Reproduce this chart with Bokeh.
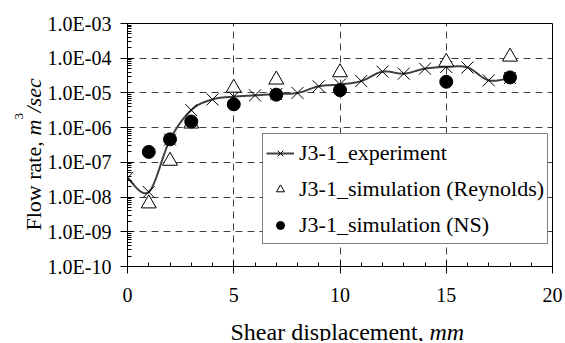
import math
import numpy as np
from bokeh.plotting import figure
from bokeh.layouts import row, column
from bokeh.models import (Label, Legend, LegendItem, FixedTicker,
                          CustomJSTickFormatter, Range1d)
from bokeh.embed import file_html
from bokeh.resources import INLINE

# ---------------- data ----------------
exp_x = [0, 1, 2, 3, 4, 5, 6, 7, 8, 9, 10, 11, 12, 13, 14, 15, 16, 17, 18]
exp_y = [3.6e-8, 1.4e-8, 4.5e-7, 3.2e-6, 6.5e-6, 7.8e-6, 8.5e-6, 9.3e-6,
         1.0e-5, 1.55e-5, 1.75e-5, 2.2e-5, 4.1e-5, 3.6e-5, 5.0e-5, 5.6e-5,
         5.4e-5, 2.3e-5, 2.7e-5]

rey_x = [1, 2, 3, 5, 7, 10, 15, 18]
rey_y = [6.5e-9, 1.1e-7, 1.3e-6, 1.4e-5, 2.4e-5, 3.9e-5, 7.8e-5, 1.1e-4]

ns_x = [1, 2, 3, 5, 7, 10, 15, 18]
ns_y = [2.0e-7, 4.6e-7, 1.5e-6, 4.7e-6, 8.9e-6, 1.2e-5, 2.1e-5, 2.8e-5]

x_ticks = [0, 5, 10, 15, 20]
y_decades = [-10, -9, -8, -7, -6, -5, -4, -3]

FONT = "'Liberation Serif', 'Times New Roman', serif"

# ------------- smoothed line (Excel-like Catmull-Rom in log space) -------------
def smooth(xs, ys, n=30):
    px = np.array(xs, dtype=float)
    py = np.log10(np.array(ys, dtype=float))
    m = len(px)
    outx, outy = [], []
    for i in range(m - 1):
        i0 = max(i - 1, 0)
        i3 = min(i + 2, m - 1)
        p0 = np.array([px[i0], py[i0]])
        p1 = np.array([px[i], py[i]])
        p2 = np.array([px[i + 1], py[i + 1]])
        p3 = np.array([px[i3], py[i3]])
        c1 = p1 + (p2 - p0) / 6.0
        c2 = p2 - (p3 - p1) / 6.0
        t = np.linspace(0, 1, n, endpoint=(i == m - 2))
        b = ((1 - t) ** 3)[:, None] * p1 + (3 * (1 - t) ** 2 * t)[:, None] * c1 \
            + (3 * (1 - t) * t ** 2)[:, None] * c2 + (t ** 3)[:, None] * p2
        outx.extend(b[:, 0].tolist())
        outy.extend(b[:, 1].tolist())
    return outx, [10 ** v for v in outy]

sx, sy = smooth(exp_x, exp_y)

def no_align(f):
    try:
        f.frame_align = False
    except Exception:
        pass

# ---------------- layout geometry (page pixels) ----------------
TOTAL_W, TOTAL_H = 563, 341
FR_L, FR_R, FR_T, FR_B = 125, 552, 23, 266
YT_W = 44
MAIN_W = TOTAL_W - YT_W
MAIN_H = 312
XT_H = TOTAL_H - MAIN_H

# ---------------- main figure ----------------
p = figure(width=MAIN_W, height=MAIN_H, output_backend="svg",
           toolbar_location=None, y_axis_type="log",
           x_range=Range1d(0, 20), y_range=Range1d(1e-10, 1e-3),
           min_border_left=FR_L - YT_W, min_border_right=TOTAL_W - FR_R,
           min_border_top=FR_T, min_border_bottom=MAIN_H - FR_B)
no_align(p)
p.background_fill_color = "white"
p.border_fill_color = "white"
p.outline_line_color = "black"
p.outline_line_width = 1

p.xaxis.ticker = FixedTicker(ticks=x_ticks, minor_ticks=list(range(0, 21)))
major_y = [10.0 ** d for d in y_decades]
minor_y = [k * 10.0 ** d for d in y_decades[:-1] for k in range(2, 10)]
p.yaxis.ticker = FixedTicker(ticks=major_y, minor_ticks=minor_y)
p.yaxis.formatter = CustomJSTickFormatter(code="""
const s = tick.toExponential(1);
const parts = s.split('e');
let e = parseInt(parts[1]);
const sign = e < 0 ? '-' : '+';
e = Math.abs(e);
return parts[0] + 'E' + sign + (e < 10 ? '0' + e : '' + e);
""")

for ax in (p.xaxis, p.yaxis):
    ax.axis_line_color = "black"
    ax.axis_line_width = 1
    ax.major_tick_line_color = "black"
    ax.minor_tick_line_color = "black"
    ax.major_tick_out = 7
    ax.major_tick_in = 6
    ax.minor_tick_out = 0
    ax.minor_tick_in = 4
    ax.major_label_text_font = FONT
    ax.major_label_text_font_size = "20px"
    ax.major_label_text_color = "black"
p.xaxis.major_label_standoff = 14
p.yaxis.major_label_standoff = 9

p.xgrid.grid_line_color = "#404040"
p.ygrid.grid_line_color = "#404040"
p.xgrid.grid_line_dash = "7 5"
p.ygrid.grid_line_dash = "7 5"

r_line = p.line(sx, sy, line_color="#404040", line_width=2)
r_exp = p.scatter(exp_x, exp_y, marker="x", size=17, line_color="black",
                  line_width=1)
r_rey = p.scatter(rey_x, rey_y, marker="triangle", size=15, fill_color="white",
                  line_color="black", line_width=1)
r_ns = p.scatter(ns_x, ns_y, marker="circle", size=13, fill_color="black",
                 line_color="black")

legend = Legend(items=[
    LegendItem(label="J3-1_experiment", renderers=[r_line, r_exp]),
    LegendItem(label="J3-1_simulation (Reynolds)", renderers=[r_rey]),
    LegendItem(label="J3-1_simulation (NS)", renderers=[r_ns]),
], location=(135, 22))
legend.margin = 0
legend.padding = 3
legend.spacing = 5
legend.label_height = 31
legend.glyph_height = 20
legend.glyph_width = 28
legend.label_standoff = 5
legend.label_text_font = FONT
legend.label_text_font_size = "22px"
legend.label_text_color = "black"
legend.border_line_color = "black"
legend.border_line_width = 1
legend.background_fill_color = "white"
legend.background_fill_alpha = 1.0
p.add_layout(legend, "center")

# ---------------- title strips: data coords == page pixels ----------------
def strip(w, h, xr, yr, bl=0, br=0, bt=0, bb=0):
    f = figure(width=w, height=h, output_backend="svg", toolbar_location=None,
               x_range=Range1d(*xr), y_range=Range1d(*yr),
               x_axis_location=None, y_axis_location=None,
               min_border_left=bl, min_border_right=br,
               min_border_top=bt, min_border_bottom=bb)
    no_align(f)
    f.outline_line_color = None
    f.xgrid.visible = False
    f.ygrid.visible = False
    f.background_fill_color = "white"
    f.border_fill_color = "white"
    return f

def lab(f, x, y, text, size, style="normal", angle=0.0):
    f.add_layout(Label(x=x, y=y, text=text, text_font=FONT,
                       text_font_size=size, text_font_style=style,
                       angle=angle, text_baseline="alphabetic",
                       text_align="left", text_color="black"))

# y title strip: frame spans page x 0..YT_W, page y FR_T..FR_B (flipped)
yt = strip(YT_W, MAIN_H, (0, YT_W), (FR_B, FR_T),
           bt=FR_T, bb=MAIN_H - FR_B)
ang = math.pi / 2
yb = 230
lab(yt, 33, yb, "Flow rate, ", "22px", angle=ang)
lab(yt, 33, yb - 95, "m", "22px", "italic", angle=ang)
lab(yt, 33 - 15, yb - 111, "3", "13px", angle=ang)
lab(yt, 33, yb - 118, "/sec", "22px", "italic", angle=ang)

# x title strip: frame spans page x FR_L..FR_R, page y MAIN_H..TOTAL_H
xt = strip(TOTAL_W, XT_H, (FR_L, FR_R), (TOTAL_H, MAIN_H),
           bl=FR_L, br=TOTAL_W - FR_R)
xb = 331
lab(xt, 230, xb, "Shear displacement, ", "24px")
lab(xt, 230 + 199, xb, "mm", "24px", "italic")

layout = column(row(yt, p, spacing=0), xt, spacing=0)

open("out.html", "w").write(file_html(layout, INLINE))
